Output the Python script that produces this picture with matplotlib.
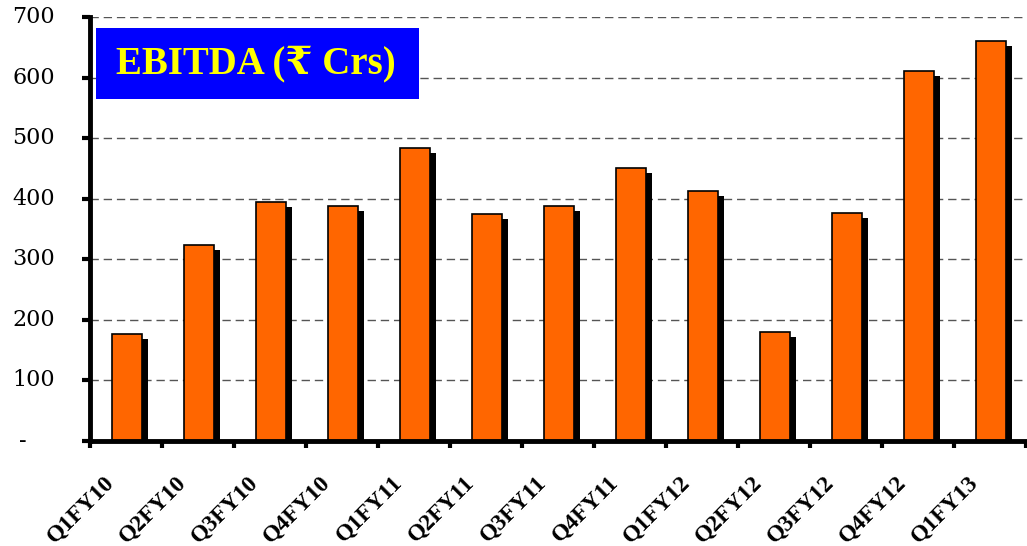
import matplotlib
matplotlib.use("Agg")
import matplotlib.pyplot as plt
import matplotlib.patheffects as pe
import matplotlib.transforms as mtransforms
from matplotlib.patches import Rectangle
import numpy as np

quarters = ["Q1FY10", "Q2FY10", "Q3FY10", "Q4FY10", "Q1FY11", "Q2FY11", "Q3FY11",
            "Q4FY11", "Q1FY12", "Q2FY12", "Q3FY12", "Q4FY12", "Q1FY13"]
ebitda = [176, 324, 395, 388, 483, 374, 388, 451, 412, 179, 377, 611, 660]
y_ticks = [0, 100, 200, 300, 400, 500, 600, 700]
y_labels = ["-", "100", "200", "300", "400", "500", "600", "700"]
title_text = "EBITDA (\u20b9 Crs)"

W, H = 1027, 546
fig = plt.figure(figsize=(W / 100, H / 100), dpi=100)
ax = fig.add_axes([90 / W, (H - 440.7) / H, (1026 - 90) / W, (440.7 - 17) / H])

x = np.arange(len(quarters))
bars = ax.bar(x + 0.015, ebitda, width=0.42, color="#FF6600", edgecolor="black",
              linewidth=1.2, zorder=3)
for b in bars:
    b.set_path_effects([pe.SimplePatchShadow(offset=(4.3, -3.6), shadow_rgbFace="black",
                                             alpha=1.0), pe.Normal()])

ax.set_xlim(-0.5, len(quarters) - 0.5)
ax.set_ylim(0, 700)

# value axis: ticks, dashed grid and labels
ax.set_yticks(y_ticks)
ax.set_yticklabels([])
ax.tick_params(axis="y", which="major", length=6, width=3, direction="out")
ax.yaxis.grid(True, linestyle=(0, (6, 3.5)), color="#555555", linewidth=1.0, zorder=0)
ax.set_axisbelow(True)
for v, lab in zip(y_ticks, y_labels):
    dx = -63 if lab == "-" else -35
    ax.text(0, v, lab, transform=ax.get_yaxis_transform()
            + mtransforms.ScaledTranslation(dx / 100, 0, fig.dpi_scale_trans),
            ha="right", va="center", fontsize=16, family="DejaVu Serif", clip_on=False)

# category boundaries as ticks; rotated category names below
ax.set_xticks(np.arange(-0.5, len(quarters) + 0.5, 1.0))
ax.set_xticklabels([])
ax.tick_params(axis="x", which="major", length=5, width=3, direction="out")
label_shift = mtransforms.ScaledTranslation(-22 / 100, -31 / 100, fig.dpi_scale_trans)
for i, q in enumerate(quarters):
    ax.text(i, 0, q, transform=ax.get_xaxis_transform() + label_shift,
            rotation=45, ha="right", va="top", rotation_mode="anchor",
            fontweight="bold", fontsize=17, family=["Liberation Serif", "DejaVu Serif"],
            clip_on=False)

for s in ["top", "right"]:
    ax.spines[s].set_visible(False)
for s in ["left", "bottom"]:
    ax.spines[s].set_linewidth(3.5)
    ax.spines[s].set_zorder(4)

# title box
fig.patches.append(Rectangle((96 / W, (H - 99) / H), (419 - 96) / W, (99 - 28) / H,
                             transform=fig.transFigure, facecolor="#0000FF",
                             edgecolor="none", zorder=5))
fig.text(256 / W, (H - 64) / H, title_text, color="#FFFF00", fontsize=28,
         fontweight="bold", ha="center", va="center", zorder=6,
         family=["Liberation Serif", "DejaVu Serif", "DejaVu Sans", "Noto Sans"])

fig.savefig("out.png", dpi=100)
